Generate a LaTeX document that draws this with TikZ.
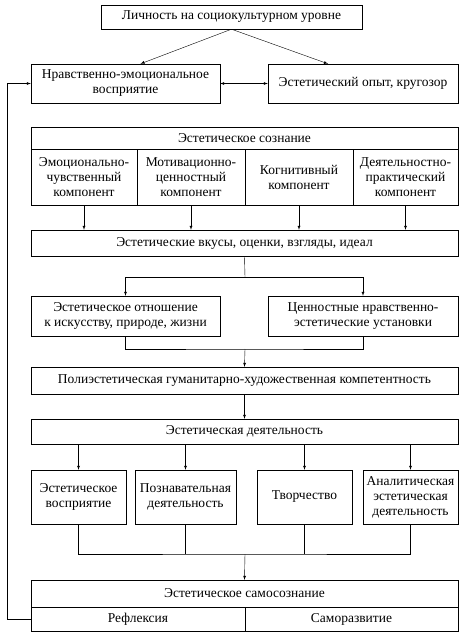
\documentclass[tikz,border=0pt]{standalone}
\usepackage{fontspec}
\setmainfont{Liberation Serif}
\usetikzlibrary{positioning}
\usetikzlibrary{calc}
\tikzset{
  blk/.style={draw, align=center, inner sep=1pt, font=\fontsize{13.5}{15}\selectfont},
}
\newcommand{\tikzblock}[6]{%
\pgfmathsetmacro{\bw}{#4-#2}
\pgfmathsetmacro{\bh}{#5-#3}
\node[blk,minimum width=\bw pt,minimum height=\bh pt] (#1) at ({(#2+#4)/2},{(#3+#5)/2}) {#6};
}

\begin{document}
\begin{tikzpicture}[x=1pt, y=-1pt]
\useasboundingbox (0,0) rectangle (463,635);
% upper level
\tikzblock{person}{101}{5}{362}{29}{Личность на социокультурном уровне}
\tikzblock{moral}{31}{64}{220}{103}{Нравственно-эмоциональное\\восприятие}
\tikzblock{exp}{268}{64}{458}{103}{Эстетический опыт, кругозор}
% consciousness
\tikzblock{cons}{31}{127}{458}{149}{Эстетическое сознание}
\tikzblock{c1}{31}{149}{137}{205}{Эмоционально-\\чувственный\\компонент}
\tikzblock{c2}{137}{149}{245}{205}{Мотивационно-\\ценностный\\компонент}
\tikzblock{c3}{245}{149}{353}{205}{Когнитивный\\компонент}
\tikzblock{c4}{353}{149}{458}{205}{Деятельностно-\\практический\\компонент}
\tikzblock{taste}{31}{230}{458}{256}{Эстетические вкусы, оценки, взгляды, идеал}
\tikzblock{rel}{31}{296}{220}{336}{Эстетическое отношение\\к искусству, природе, жизни}
\tikzblock{val}{268}{296}{458}{336}{Ценностные нравственно-\\эстетические установки}
\tikzblock{poly}{31}{367}{458}{394}{Полиэстетическая гуманитарно-художественная компетентность}
% activity
\tikzblock{act}{31}{419}{458}{444}{Эстетическая деятельность}
\tikzblock{a1}{31}{470}{126}{524}{Эстетическое\\восприятие}
\tikzblock{a2}{135}{470}{236}{524}{Познавательная\\деятельность}
\tikzblock{a3}{257}{470}{352}{524}{Творчество}
\tikzblock{a4}{363}{470}{458}{524}{Аналитическая\\эстетическая\\деятельность}
% self-consciousness
\tikzblock{self}{31}{580}{458}{607}{Эстетическое самосознание}
\tikzblock{refl}{31}{607}{245}{631}{Рефлексия}
\tikzblock{dev}{245}{607}{458}{631}{Саморазвитие}

\coordinate (split) at (245,277);
\coordinate (join) at (245,349);
\coordinate (merge) at (245,554);

\draw[-latex] (person.south) -- ([xshift=15pt]moral.north);
\draw[-latex] (person.south) -- ([xshift=-35pt]exp.north);
\draw[latex-latex] (moral.east) -- (exp.west);
\foreach \c in {c1,c2,c3,c4}
  \draw[-latex] (\c.south) -- (\c.south |- taste.north);
\draw (taste.south) -- (split);
\draw[-latex] (split) -| (rel.north);
\draw[-latex] (split) -| (val.north);
\draw (rel.south) |- (join) -| (val.south);
\draw[-latex] (join) -- (poly.north);
\draw[-latex] (poly.south) -- (act.north);
\foreach \a in {a1,a2,a3,a4}
  \draw[-latex] (\a.north |- act.south) -- (\a.north);
\draw (a1.south) |- (merge) -| (a4.south);
\draw (a2.south) -- (a2.south |- merge);
\draw (a3.south) -- (a3.south |- merge);
\draw[-latex] (merge) -- (self.north);
% feedback loop
\draw[-latex] (refl.west) -- ++(-24,0) |- (moral.west);
\end{tikzpicture}
\end{document}
